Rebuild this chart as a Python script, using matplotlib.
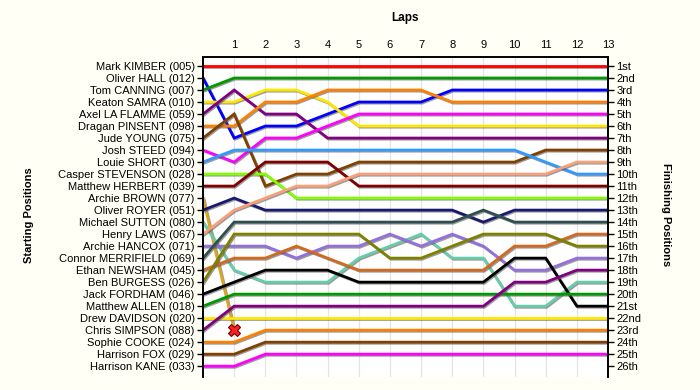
import matplotlib
matplotlib.use("Agg")
import matplotlib.pyplot as plt
import matplotlib.patheffects as pe
import numpy as np

plt.rcParams['font.family'] = ['Liberation Sans', 'DejaVu Sans']

laps = list(range(14))
drivers = ["Mark KIMBER (005)", "Oliver HALL (012)", "Tom CANNING (007)", "Keaton SAMRA (010)",
           "Axel LA FLAMME (059)", "Dragan PINSENT (098)", "Jude YOUNG (075)", "Josh STEED (094)",
           "Louie SHORT (030)", "Casper STEVENSON (028)", "Matthew HERBERT (039)", "Archie BROWN (077)",
           "Oliver ROYER (051)", "Michael SUTTON (080)", "Henry LAWS (067)", "Archie HANCOX (071)",
           "Connor MERRIFIELD (069)", "Ethan NEWSHAM (045)", "Ben BURGESS (026)", "Jack FORDHAM (046)",
           "Matthew ALLEN (018)", "Drew DAVIDSON (020)", "Chris SIMPSON (088)", "Sophie COOKE (024)",
           "Harrison FOX (029)", "Harrison KANE (033)"]

finish_labels = ["1st", "2nd", "3rd", "4th", "5th", "6th", "7th", "8th", "9th", "10th", "11th", "12th",
                 "13th", "14th", "15th", "16th", "17th", "18th", "19th", "20th", "21st", "22nd", "23rd",
                 "24th", "25th", "26th"]

kimber   = [1, 1, 1, 1, 1, 1, 1, 1, 1, 1, 1, 1, 1, 1]
hall     = [2, 7, 6, 6, 5, 4, 4, 4, 3, 3, 3, 3, 3, 3]
canning  = [3, 2, 2, 2, 2, 2, 2, 2, 2, 2, 2, 2, 2, 2]
samra    = [4, 4, 3, 3, 4, 6, 6, 6, 6, 6, 6, 6, 6, 6]
laflamme = [5, 3, 5, 5, 7, 7, 7, 7, 7, 7, 7, 7, 7, 7]
pinsent  = [6, 6, 4, 4, 3, 3, 3, 3, 4, 4, 4, 4, 4, 4]
young    = [7, 5, 11, 10, 10, 9, 9, 9, 9, 9, 9, 8, 8, 8]
steed    = [8, 9, 7, 7, 6, 5, 5, 5, 5, 5, 5, 5, 5, 5]
short    = [9, 8, 8, 8, 8, 8, 8, 8, 8, 8, 8, 9, 10, 10]
stevenson = [10, 10, 10, 12, 12, 12, 12, 12, 12, 12, 12, 12, 12, 12]
herbert  = [11, 11, 9, 9, 9, 11, 11, 11, 11, 11, 11, 11, 11, 11]
brown    = [12, 23]  # retired after lap 1
royer    = [13, 12, 13, 13, 13, 13, 13, 13, 13, 14, 13, 13, 13, 13]
sutton   = [14, 18, 19, 19, 19, 17, 16, 15, 17, 17, 21, 21, 19, 19]
laws     = [15, 13, 12, 11, 11, 10, 10, 10, 10, 10, 10, 10, 9, 9]
hancox   = [16, 16, 16, 17, 16, 16, 15, 16, 15, 16, 18, 18, 17, 17]
merrifield = [17, 14, 14, 14, 14, 14, 14, 14, 14, 13, 14, 14, 14, 14]
newsham  = [18, 17, 17, 16, 17, 18, 18, 18, 18, 18, 16, 16, 15, 15]
burgess  = [19, 15, 15, 15, 15, 15, 17, 17, 16, 15, 15, 15, 16, 16]
fordham  = [20, 19, 18, 18, 18, 19, 19, 19, 19, 19, 17, 17, 21, 21]
allen    = [21, 20, 20, 20, 20, 20, 20, 20, 20, 20, 20, 20, 20, 20]
davidson = [22, 22, 22, 22, 22, 22, 22, 22, 22, 22, 22, 22, 22, 22]
simpson  = [23, 21, 21, 21, 21, 21, 21, 21, 21, 21, 19, 19, 18, 18]
cooke    = [24, 24, 23, 23, 23, 23, 23, 23, 23, 23, 23, 23, 23, 23]
fox      = [25, 25, 24, 24, 24, 24, 24, 24, 24, 24, 24, 24, 24, 24]
kane     = [26, 26, 25, 25, 25, 25, 25, 25, 25, 25, 25, 25, 25, 25]

series = [kimber, hall, canning, samra, laflamme, pinsent, young, steed, short, stevenson,
          herbert, brown, royer, sutton, laws, hancox, merrifield, newsham, burgess, fordham,
          allen, davidson, simpson, cooke, fox, kane]

colors = ["#FF0000", "#0000FF", "#009900", "#FFE600", "#800080", "#FF8000", "#804000", "#FF00FF",
          "#3399FF", "#80FF00", "#800000", "#DAA520", "#191970", "#66CDAA", "#F8A07A", "#9370DB",
          "#2F4F4F", "#D2691E", "#808000", "#000000", "#009900", "#FFE600", "#800080", "#FF8000",
          "#804000", "#FF00FF"]

retired_index = 11

bg = "#FFFFF5"
fig = plt.figure(figsize=(7, 3.9), dpi=100, facecolor=bg)
ax = fig.add_axes([203/700, 1-377/390, (608-203)/700, (377-57)/390])
ax.set_facecolor("white")

for x in range(1, 13):
    ax.axvline(x, color="#E4E4E4", lw=0.9, zorder=0)

shadow = [pe.SimpleLineShadow(offset=(0.8, -0.8), shadow_color="0.35", alpha=0.6), pe.Normal()]
for i, (s, c) in enumerate(zip(series, colors)):
    ax.plot(laps[:len(s)], s, color=c, lw=2.0, solid_joinstyle="miter", zorder=2,
            path_effects=shadow)

rs = series[retired_index]
ax.plot(laps[len(rs) - 1], rs[-1], marker="X", ms=8, mfc="#FF2020", mec="#700000", mew=0.8,
        zorder=4, linestyle="none")

ax.set_xlim(0, 13)
ax.set_ylim(26.9, 0.25)
ax.xaxis.tick_top()
ax.set_xticks(range(1, 14))
ax.set_xticklabels([str(x) for x in range(1, 14)], fontsize=8)
ax.tick_params(axis="x", length=0, pad=5)
ax.set_yticks(range(1, 27))
ax.set_yticklabels(drivers, fontsize=8)
ax.tick_params(axis="y", length=4, width=1, pad=2, direction="out")

ax2 = ax.twinx()
ax2.set_ylim(26.9, 0.25)
ax2.set_yticks(range(1, 27))
ax2.set_yticklabels(finish_labels, fontsize=8)
ax2.tick_params(axis="y", length=4, width=1, pad=2, direction="out")

for a in (ax, ax2):
    a.spines["bottom"].set_visible(False)
    for sp in ("top", "left", "right"):
        a.spines[sp].set_linewidth(1.2)
        a.spines[sp].set_color("black")

fig.text(405.5/700, 1-18/390, "Laps", ha="center", va="center", fontsize=8.5, fontweight="bold")
fig.text(29/700, 1-215/390, "Starting Positions", ha="center", va="center", rotation=90,
         fontsize=8, fontweight="bold")
fig.text(666/700, 1-215/390, "Finishing Positions", ha="center", va="center", rotation=270,
         fontsize=8, fontweight="bold")

fig.savefig("out.png", dpi=100, facecolor=bg)
